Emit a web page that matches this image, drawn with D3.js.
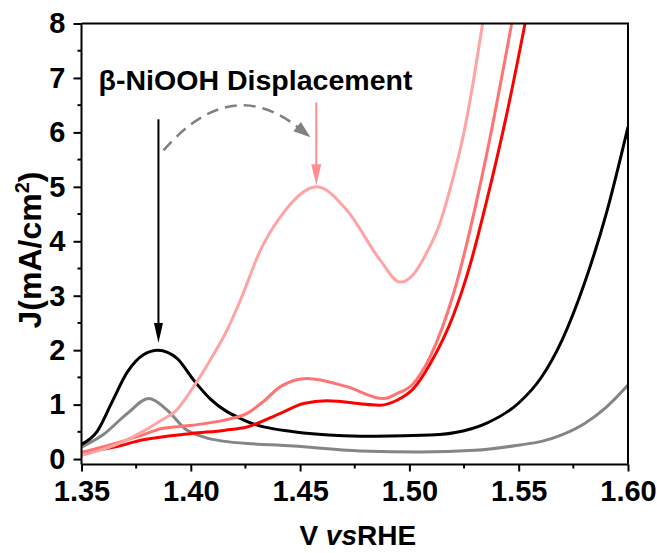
<!DOCTYPE html>
<html>
<head>
<meta charset="utf-8">
<script src="https://cdn.jsdelivr.net/npm/d3@7"></script>
<style>
  html, body { margin: 0; padding: 0; background: #fff; }
  svg { display: block; font-family: "Liberation Sans", Arial, sans-serif; }
</style>
</head>
<body>
<svg id="chart" width="657" height="553"></svg>
<script>
// ---------------- data ----------------
const xTicks = [1.35, 1.40, 1.45, 1.50, 1.55, 1.60];
const xTickLabels = ["1.35", "1.40", "1.45", "1.50", "1.55", "1.60"];
const xMinor = [1.375, 1.425, 1.475, 1.525, 1.575];
const yTicks = [0, 1, 2, 3, 4, 5, 6, 7, 8];
const yTickLabels = ["0", "1", "2", "3", "4", "5", "6", "7", "8"];
const yMinor = [0.5, 1.5, 2.5, 3.5, 4.5, 5.5, 6.5, 7.5];

const blackV = [1.350, 1.357, 1.364, 1.371, 1.3785, 1.385, 1.3937, 1.4013, 1.409, 1.424, 1.447, 1.470, 1.485, 1.5095, 1.525, 1.5354, 1.550, 1.560, 1.570, 1.580, 1.590, 1.600];
const blackJ = [0.27, 0.50, 1.05, 1.60, 1.92, 2.00, 1.85, 1.45, 1.10, 0.72, 0.50, 0.43, 0.42, 0.44, 0.52, 0.66, 1.03, 1.48, 2.20, 3.22, 4.50, 6.10];

const greyV = [1.350, 1.360, 1.371, 1.3808, 1.3892, 1.3983, 1.4166, 1.447, 1.4775, 1.505, 1.530, 1.5506, 1.560, 1.570, 1.580, 1.590, 1.600];
const greyJ = [0.22, 0.45, 0.84, 1.11, 0.90, 0.53, 0.32, 0.24, 0.15, 0.13, 0.16, 0.26, 0.32, 0.45, 0.65, 0.95, 1.36];

const pinkV = [1.350, 1.365, 1.3777, 1.386, 1.393, 1.4013, 1.4089, 1.4166, 1.4227, 1.432, 1.441, 1.4577, 1.4714, 1.4867, 1.4958, 1.502, 1.507, 1.5141, 1.5202, 1.5247, 1.5293, 1.5331, 1.537];
const pinkJ = [0.07, 0.25, 0.50, 0.70, 0.88, 1.33, 1.82, 2.37, 2.92, 3.85, 4.45, 5.00, 4.57, 3.65, 3.25, 3.40, 3.72, 4.35, 5.20, 5.95, 6.95, 7.90, 8.95];

const salmonV = [1.350, 1.365, 1.3777, 1.3868, 1.4006, 1.4158, 1.4257, 1.433, 1.441, 1.4532, 1.4714, 1.4882, 1.4943, 1.5019, 1.5095, 1.5202, 1.5354, 1.5468, 1.550];
const salmonJ = [0.12, 0.28, 0.44, 0.56, 0.62, 0.72, 0.84, 1.05, 1.33, 1.48, 1.33, 1.11, 1.20, 1.39, 1.88, 3.04, 5.61, 8.00, 8.70];

const redV = [1.350, 1.365, 1.3777, 1.4006, 1.4158, 1.4257, 1.441, 1.4516, 1.4623, 1.4867, 1.4943, 1.502, 1.5095, 1.5202, 1.528, 1.5354, 1.5446, 1.5529, 1.556];
const redJ = [0.12, 0.22, 0.35, 0.47, 0.53, 0.59, 0.84, 1.02, 1.07, 0.99, 1.08, 1.30, 1.75, 2.65, 3.60, 4.75, 6.35, 8.00, 8.65];

const seriesNames = ["grey", "black", "red", "salmon", "pink"];
const seriesColors = ["#858585", "#000000", "#ff0000", "#ff7373", "#ffa3a3"];

const annotationText = "β-NiOOH Displacement";

// ---------------- layout ----------------
const svg = d3.select("#chart");
const mLeft = 81.5, mRight = 628, mTop = 23.5, mBottom = 464.5;

const x = d3.scaleLinear().domain([1.35, 1.60]).range([mLeft, mRight]);
const y = d3.scaleLinear().domain([-0.1, 8]).range([mBottom, mTop]);

svg.append("defs").append("clipPath").attr("id", "plotclip")
  .append("rect").attr("x", mLeft).attr("y", mTop).attr("width", mRight - mLeft).attr("height", mBottom - mTop);

// curves
const seriesData = {
  grey: greyV.map((v, i) => [v, greyJ[i]]),
  black: blackV.map((v, i) => [v, blackJ[i]]),
  red: redV.map((v, i) => [v, redJ[i]]),
  salmon: salmonV.map((v, i) => [v, salmonJ[i]]),
  pink: pinkV.map((v, i) => [v, pinkJ[i]])
};
const line = d3.line().x(d => x(d[0])).y(d => y(d[1])).curve(d3.curveMonotoneX);
const plot = svg.append("g").attr("clip-path", "url(#plotclip)");
seriesNames.forEach((name, i) => {
  plot.append("path")
    .datum(seriesData[name])
    .attr("d", line)
    .attr("fill", "none")
    .attr("stroke", seriesColors[i])
    .attr("stroke-width", 3)
    .attr("stroke-linejoin", "round");
});

// axes
const fontSize = 29;
const xAxis = d3.axisBottom(x).tickValues(xTicks).tickSize(7).tickPadding(9)
  .tickFormat((d, i) => xTickLabels[i]);
const gx = svg.append("g").attr("transform", `translate(0,${mBottom})`).call(xAxis);
gx.select(".domain").attr("stroke-width", 2).attr("d", `M${mLeft},0H${mRight}`);
gx.selectAll(".tick line").attr("stroke-width", 2);
gx.selectAll("text").attr("font-size", fontSize).attr("font-weight", "bold")
  .attr("font-family", "Liberation Sans, Arial, sans-serif").attr("fill", "#000");
gx.selectAll(".minor").data(xMinor).enter().append("line").attr("class", "minor")
  .attr("x1", d => x(d)).attr("x2", d => x(d)).attr("y1", 0).attr("y2", 4)
  .attr("stroke", "#000").attr("stroke-width", 2);

const yAxis = d3.axisLeft(y).tickValues(yTicks).tickSize(8).tickPadding(8)
  .tickFormat((d, i) => yTickLabels[i]);
const gy = svg.append("g").attr("transform", `translate(${mLeft},0)`).call(yAxis);
gy.select(".domain").attr("stroke-width", 2).attr("d", `M0,${mTop}V${mBottom}`);
gy.selectAll(".tick line").attr("stroke-width", 2);
gy.selectAll("text").attr("font-size", fontSize).attr("font-weight", "bold")
  .attr("font-family", "Liberation Sans, Arial, sans-serif").attr("fill", "#000");
gy.selectAll(".minor").data(yMinor).enter().append("line").attr("class", "minor")
  .attr("y1", d => y(d)).attr("y2", d => y(d)).attr("x1", 0).attr("x2", -4)
  .attr("stroke", "#000").attr("stroke-width", 2);

// top & right frame
svg.append("path").attr("d", `M${mLeft},${mTop}H${mRight}V${mBottom}`)
  .attr("fill", "none").attr("stroke", "#000").attr("stroke-width", 2);

// axis titles
const xt = svg.append("text").attr("x", (mLeft + mRight) / 2 + 3).attr("y", 545)
  .attr("text-anchor", "middle").attr("font-size", 28).attr("font-weight", "bold");
xt.append("tspan").text("V ");
xt.append("tspan").attr("font-style", "italic").text("vs");
xt.append("tspan").text("RHE");

const yt = svg.append("text").attr("transform", `translate(41,${(mTop + mBottom) / 2 + 6}) rotate(-90)`)
  .attr("text-anchor", "middle").attr("font-size", 32).attr("font-weight", "bold");
yt.append("tspan").text("J(mA/cm");
yt.append("tspan").attr("font-size", 20).attr("dy", -12).text("2");
yt.append("tspan").attr("dy", 12).text(")");

// annotations
svg.append("text").attr("x", x(1.3578)).attr("y", y(6.77))
  .attr("font-size", 27).attr("font-weight", "bold").attr("textLength", 314)
  .attr("lengthAdjust", "spacingAndGlyphs").text(annotationText);

function arrow(v, j0, j1, color, w, len, hw) {
  const xx = x(v), ya = y(j0), yb = y(j1);
  svg.append("line").attr("x1", xx).attr("x2", xx).attr("y1", ya).attr("y2", yb - len + 2)
    .attr("stroke", color).attr("stroke-width", w);
  svg.append("path").attr("d", `M${xx - hw},${yb - len}L${xx + hw},${yb - len}L${xx},${yb}Z`).attr("fill", color);
}
arrow(1.3852, 6.24, 2.13, "#000", 2, 20, 4.5);
arrow(1.4574, 6.55, 5.03, "#ff8f8f", 2, 21, 5);

// dashed curved arrow
const p0 = [x(1.3875), y(5.67)], c = [x(1.4183), y(7.09)], p2 = [x(1.4547), y(5.91)];
const ang = Math.atan2(p2[1] - c[1], p2[0] - c[0]);
const hl = 17, hw2 = 6;
const back = [p2[0] - hl * Math.cos(ang), p2[1] - hl * Math.sin(ang)];
svg.append("path").attr("d", `M${p0[0]},${p0[1]}Q${c[0]},${c[1]} ${back[0] + 3 * Math.cos(ang)},${back[1] + 3 * Math.sin(ang)}`)
  .attr("fill", "none").attr("stroke", "#808080").attr("stroke-width", 2.5).attr("stroke-dasharray", "12,7");
svg.append("path").attr("d",
  `M${p2[0]},${p2[1]}L${back[0] - hw2 * Math.sin(ang)},${back[1] + hw2 * Math.cos(ang)}L${back[0] + hw2 * Math.sin(ang)},${back[1] - hw2 * Math.cos(ang)}Z`)
  .attr("fill", "#808080");
</script>
</body>
</html>
